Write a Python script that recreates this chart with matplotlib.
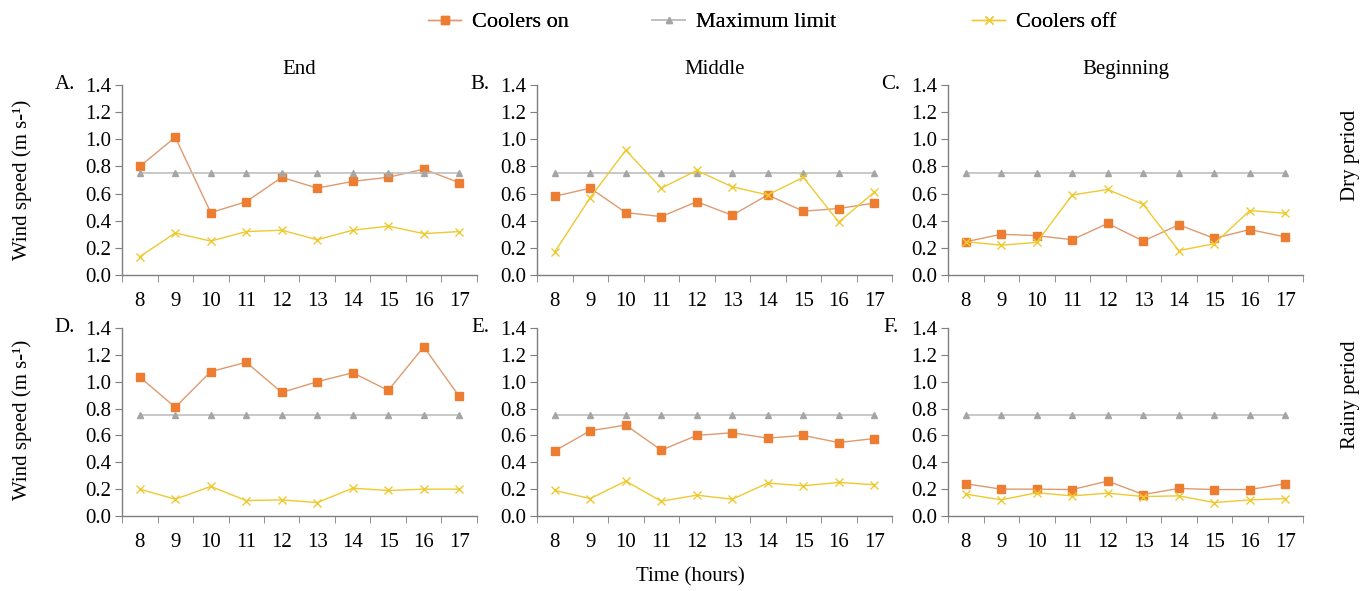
import matplotlib
matplotlib.use("Agg")
import matplotlib.pyplot as plt
from matplotlib.ticker import FixedLocator, FormatStrFormatter

plt.rcParams['font.family'] = ['Liberation Serif', 'DejaVu Serif']

hours = [8, 9, 10, 11, 12, 13, 14, 15, 16, 17]
max_limit = [0.75] * 10

# dry period (top row): end, middle, beginning
dry_on_end = [0.80, 1.015, 0.46, 0.54, 0.72, 0.64, 0.69, 0.72, 0.78, 0.68]
dry_off_end = [0.135, 0.31, 0.25, 0.32, 0.33, 0.26, 0.33, 0.36, 0.305, 0.32]
dry_on_mid = [0.58, 0.64, 0.46, 0.43, 0.54, 0.44, 0.59, 0.47, 0.49, 0.53]
dry_off_mid = [0.17, 0.57, 0.92, 0.64, 0.77, 0.65, 0.59, 0.72, 0.39, 0.61]
dry_on_beg = [0.245, 0.30, 0.29, 0.26, 0.38, 0.25, 0.37, 0.27, 0.335, 0.28]
dry_off_beg = [0.245, 0.22, 0.24, 0.59, 0.63, 0.52, 0.18, 0.23, 0.475, 0.455]

# rainy period (bottom row)
rainy_on_end = [1.035, 0.81, 1.075, 1.145, 0.92, 1.00, 1.067, 0.935, 1.26, 0.89]
rainy_off_end = [0.20, 0.125, 0.22, 0.115, 0.12, 0.10, 0.207, 0.19, 0.20, 0.20]
rainy_on_mid = [0.485, 0.635, 0.677, 0.49, 0.60, 0.62, 0.58, 0.60, 0.547, 0.577]
rainy_off_mid = [0.19, 0.13, 0.26, 0.11, 0.155, 0.125, 0.245, 0.225, 0.25, 0.233]
rainy_on_beg = [0.24, 0.20, 0.20, 0.197, 0.26, 0.16, 0.205, 0.197, 0.197, 0.24]
rainy_off_beg = [0.163, 0.12, 0.173, 0.15, 0.17, 0.145, 0.15, 0.10, 0.12, 0.13]

panels = [
    ("A.", "End", dry_on_end, dry_off_end),
    ("B.", "Middle", dry_on_mid, dry_off_mid),
    ("C.", "Beginning", dry_on_beg, dry_off_beg),
    ("D.", None, rainy_on_end, rainy_off_end),
    ("E.", None, rainy_on_mid, rainy_off_mid),
    ("F.", None, rainy_on_beg, rainy_off_beg),
]

W, H = 1368, 591
fig = plt.figure(figsize=(W / 100, H / 100), dpi=100)

lefts = [122, 537, 948]
width = 355
rows = [(85, 275), (328, 516)]

c_on = '#ED7D31'
c_on_line = '#DE9A70'
c_max = '#A5A5A5'
c_off = '#EFC930'
spine_c = '#7F7F7F'

for i, (lab, title, on, off) in enumerate(panels):
    r, c = divmod(i, 3)
    top, bot = rows[r]
    ax = fig.add_axes([lefts[c] / W, 1 - bot / H, width / W, (bot - top) / H])
    ax.plot(hours, on, color=c_on_line, lw=1.0, marker='s', ms=6,
            mfc=c_on, mec=c_on, label='Coolers on')
    ax.plot(hours, max_limit, color='#BFBFBF', lw=1.2, marker='^', ms=5,
            mfc=c_max, mec=c_max, label='Maximum limit')
    ax.plot(hours, off, color=c_off, lw=1.0, marker='x', ms=6, mew=1.0,
            mec=c_off, label='Coolers off')
    ax.set_xlim(7.5, 17.5)
    ax.set_ylim(0, 1.4)
    ax.set_yticks([0, 0.2, 0.4, 0.6, 0.8, 1.0, 1.2, 1.4])
    ax.yaxis.set_major_formatter(FormatStrFormatter('%.1f'))
    ax.set_xticks(hours)
    ax.xaxis.set_minor_locator(FixedLocator([h - 0.5 for h in hours] + [17.5]))
    ax.tick_params(axis='x', which='major', length=0, pad=12, labelsize=15)
    ax.tick_params(axis='x', which='minor', length=5, color=spine_c, direction='out')
    ax.tick_params(axis='y', length=5, color=spine_c, labelsize=15, pad=3)
    for s in ['top', 'right']:
        ax.spines[s].set_visible(False)
    for s in ['left', 'bottom']:
        ax.spines[s].set_color(spine_c)
        ax.spines[s].set_linewidth(1.0)
    ax.text(-57 / width, 1.0, lab, transform=ax.transAxes, ha='center',
            va='center', fontsize=15)
    if title:
        ax.set_title(title, fontsize=15, pad=8)
    if i == 0:
        handles, labels = ax.get_legend_handles_labels()

fig.text(22 / W, 1 - 180 / H, 'Wind speed (m s-\u00b9)', rotation=90,
         ha='center', va='center', fontsize=15)
fig.text(22 / W, 1 - 420 / H, 'Wind speed (m s-\u00b9)', rotation=90,
         ha='center', va='center', fontsize=15)
fig.text(1350 / W, 1 - 155 / H, 'Dry period', rotation=90,
         ha='center', va='center', fontsize=15)
fig.text(1350 / W, 1 - 395 / H, 'Rainy period', rotation=90,
         ha='center', va='center', fontsize=15)
fig.text(690 / W, 1 - 577 / H, 'Time (hours)', ha='center', va='center',
         fontsize=15)

# legend entries are not evenly spaced in the reference, so place each one
leg_x = [428, 652, 972]
for h, l, x in zip(handles, labels, leg_x):
    leg = fig.legend([h], [l], loc='center left', bbox_to_anchor=(x / W, 1 - 22 / H),
                     frameon=False, fontsize=16, handlelength=1.5,
                     handletextpad=0.5, borderpad=0, borderaxespad=0)
    fig.add_artist(leg)

fig.savefig('out.png', dpi=100)
